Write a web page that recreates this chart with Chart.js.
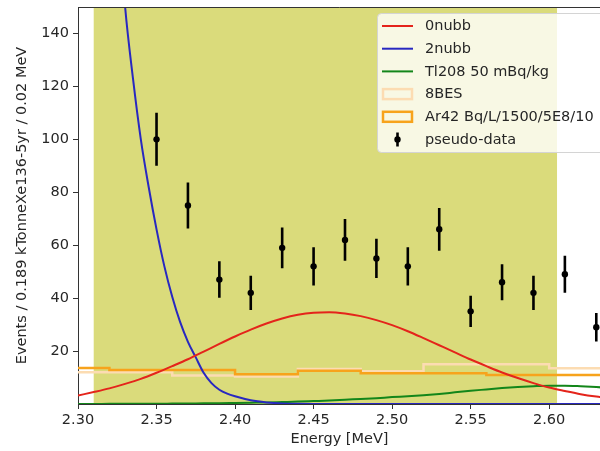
<!DOCTYPE html>
<html>
<head>
<meta charset="utf-8">
<script src="https://cdn.jsdelivr.net/npm/chart.js@4.4.1/dist/chart.umd.min.js"></script>
<style>
  html, body { margin: 0; padding: 0; background: #fff; }
  /* the original is cropped on the right: the plot runs into the edge */
  #wrap { position: relative; width: 600px; height: 451px; overflow: hidden; }
</style>
</head>
<body>
<div id="wrap"><canvas id="spectrum" width="605" height="451"></canvas></div>
<script>
// energy grid for the smooth model curves (MeV)
const energies = [2.30, 2.31, 2.32, 2.33, 2.34, 2.35, 2.36, 2.37, 2.38, 2.39,
                  2.40, 2.41, 2.42, 2.43, 2.44, 2.45, 2.46, 2.47, 2.48, 2.49,
                  2.50, 2.51, 2.52, 2.53, 2.54, 2.55, 2.56, 2.57, 2.58, 2.59,
                  2.60, 2.61, 2.62, 2.63, 2.64];
const zeroNuBB = [3.2, 4.5, 5.9, 7.6, 9.5, 11.8, 14.3, 16.9, 19.8, 22.7,
                  25.5, 28.1, 30.4, 32.3, 33.7, 34.5, 34.7, 34.2, 33.2, 31.7,
                  29.8, 27.5, 24.9, 22.2, 19.5, 16.8, 14.3, 11.9, 9.8, 7.9,
                  6.2, 4.9, 3.7, 2.8, 2.1];
const tl208 = [0, 0, 0.05, 0.05, 0.1, 0.1, 0.15, 0.2, 0.25, 0.3,
               0.4, 0.5, 0.6, 0.75, 0.9, 1.1, 1.3, 1.6, 1.9, 2.2,
               2.6, 2.9, 3.3, 3.8, 4.4, 5.0, 5.5, 6.0, 6.4, 6.7,
               6.9, 6.9, 6.7, 6.4, 6.0];

// 2nubb falls steeply, so it gets its own finer grid
const twoNuE = [2.32, 2.325, 2.33, 2.335, 2.34, 2.345, 2.35, 2.355, 2.36, 2.365,
                2.37, 2.375, 2.38, 2.385, 2.39, 2.395, 2.40, 2.41, 2.42, 2.43,
                2.44, 2.45, 2.64];
const twoNuBB = [240, 190, 150, 123, 100, 82, 66, 52, 40.5, 31,
                 23.5, 17.6, 11.8, 7.9, 5.4, 3.9, 2.9, 1.4, 0.6, 0.2,
                 0.05, 0, 0];

// step histograms (bin edges + bin contents)
const binEdges = [2.28, 2.32, 2.36, 2.40, 2.44, 2.48, 2.52, 2.56, 2.60, 2.64];
const bes8 = [12.0, 12.0, 10.8, 10.4, 13.2, 12.4, 15.0, 15.0, 13.5];
const ar42 = [13.6, 12.8, 12.8, 11.2, 12.6, 11.6, 11.6, 11.0, 11.0];

// pseudo-data with error bars
const dataE = [2.35, 2.37, 2.39, 2.41, 2.43, 2.45, 2.47, 2.49, 2.51, 2.53, 2.55, 2.57, 2.59, 2.61, 2.63];
const dataY = [100, 75, 47, 42, 59, 52, 62, 55, 52, 66, 35, 46, 42, 49, 29];
const dataErr = [10, 8.7, 6.9, 6.5, 7.7, 7.2, 7.9, 7.4, 7.2, 8.1, 5.9, 6.8, 6.5, 7.0, 5.4];

// shaded region of interest
const roiLo = 2.31;
const roiHi = 2.605;

const xTicks = [2.30, 2.35, 2.40, 2.45, 2.50, 2.55, 2.60];
const yTicks = [20, 40, 60, 80, 100, 120, 140];

const FONT = 'DejaVu Sans';
const FONT_SIZE = 14.5;
const INK = '#262626';

let pairs = (xs, ys) => xs.map((x, i) => ({x: x, y: ys[i]}));

// bin edges + contents -> points for a stepped line (value held back to previous edge)
let stepPoints = (edges, vals) => {
    let pts = [{x: edges[0], y: vals[0]}];
    vals.forEach((v, i) => pts.push({x: edges[i + 1], y: v}));
    return pts;
};

// vertical error bar segments, broken with nulls
let errPoints = [];
dataE.forEach((e, i) => {
    errPoints.push({x: e, y: dataY[i] - dataErr[i]});
    errPoints.push({x: e, y: dataY[i] + dataErr[i]});
    errPoints.push({x: e, y: null});
});

const datasets = [
    { label: 'pseudo-data', data: pairs(dataE, dataY), showLine: false,
      pointRadius: 3.2, pointBackgroundColor: '#000', pointBorderWidth: 0, borderColor: '#000' },
    { label: 'errors', data: errPoints, borderColor: '#000', borderWidth: 2.6,
      pointRadius: 0, spanGaps: false },
    { label: '0nubb', data: pairs(energies, zeroNuBB), borderColor: '#e4241b',
      borderWidth: 2, pointRadius: 0, cubicInterpolationMode: 'monotone' },
    { label: '2nubb', data: pairs(twoNuE, twoNuBB), borderColor: '#2828c0',
      borderWidth: 2, pointRadius: 0, cubicInterpolationMode: 'monotone' },
    { label: 'Tl208 50 mBq/kg', data: pairs(energies, tl208), borderColor: '#13861a',
      borderWidth: 2, pointRadius: 0, cubicInterpolationMode: 'monotone' },
    { label: 'Ar42 Bq/L/1500/5E8/10', data: stepPoints(binEdges, ar42), borderColor: '#f7a31c',
      borderWidth: 2.5, pointRadius: 0, stepped: 'after', kind: 'patch' },
    { label: '8BES', data: stepPoints(binEdges, bes8), borderColor: '#fcdcb2',
      borderWidth: 2.5, pointRadius: 0, stepped: 'after', kind: 'patch' }
];

const legendOrder = ['0nubb', '2nubb', 'Tl208 50 mBq/kg', '8BES', 'Ar42 Bq/L/1500/5E8/10', 'pseudo-data'];

// yellow band behind everything, frame + legend on top
const decor = {
    id: 'decor',
    beforeDraw(chart) {
        let {ctx, chartArea, scales} = chart;
        ctx.save();
        ctx.fillStyle = '#fff';
        ctx.fillRect(0, 0, chart.width, chart.height);
        let l = scales.x.getPixelForValue(roiLo);
        let r = scales.x.getPixelForValue(roiHi);
        ctx.fillStyle = '#dadb7b';
        ctx.fillRect(l, chartArea.top, r - l, chartArea.bottom - chartArea.top);
        ctx.restore();
    },
    afterDraw(chart) {
        let {ctx, chartArea} = chart;
        ctx.save();
        // top spine
        ctx.strokeStyle = '#333';
        ctx.lineWidth = 1;
        ctx.beginPath();
        ctx.moveTo(chartArea.left, chartArea.top + 0.5);
        ctx.lineTo(chartArea.right, chartArea.top + 0.5);
        ctx.stroke();

        // legend box
        ctx.fillStyle = 'rgba(255,255,255,0.8)';
        ctx.strokeStyle = '#d4d4d4';
        ctx.beginPath();
        ctx.roundRect(377.5, 13.5, 240, 139, 4);
        ctx.fill();
        ctx.stroke();

        ctx.font = FONT_SIZE + 'px "' + FONT + '"';
        ctx.textBaseline = 'middle';
        legendOrder.forEach((label, i) => {
            let ds = chart.data.datasets.find(d => d.label === label);
            let y = 26 + i * 22.7;
            if (label === 'pseudo-data') {
                ctx.strokeStyle = '#000';
                ctx.lineWidth = 2.6;
                ctx.beginPath();
                ctx.moveTo(397.5, y - 7);
                ctx.lineTo(397.5, y + 7);
                ctx.stroke();
                ctx.fillStyle = '#000';
                ctx.beginPath();
                ctx.arc(397.5, y, 3.2, 0, Math.PI * 2);
                ctx.fill();
            } else if (ds.kind === 'patch') {
                ctx.strokeStyle = ds.borderColor;
                ctx.lineWidth = 2.5;
                ctx.strokeRect(383, y - 5, 29, 10);
            } else {
                ctx.strokeStyle = ds.borderColor;
                ctx.lineWidth = 2;
                ctx.beginPath();
                ctx.moveTo(382, y);
                ctx.lineTo(413, y);
                ctx.stroke();
            }
            ctx.fillStyle = INK;
            ctx.fillText(label, 425, y + 0.5);
        });
        ctx.restore();
    }
};

const tickFont = {family: FONT, size: FONT_SIZE};

new Chart(document.getElementById('spectrum'), {
    type: 'line',
    data: {datasets: datasets},
    plugins: [decor],
    options: {
        responsive: false,
        animation: false,
        devicePixelRatio: 1,
        layout: {padding: {top: 7, right: 0, left: 0, bottom: 0}},
        plugins: {legend: {display: false}, tooltip: {enabled: false}},
        scales: {
            x: {
                type: 'linear', min: 2.30, max: 2.633,
                afterBuildTicks: s => { s.ticks = xTicks.map(v => ({value: v})); },
                afterFit: s => { s.height = 47; s.paddingLeft = 0; s.paddingRight = 0; },
                ticks: {callback: v => v.toFixed(2), font: tickFont, color: INK,
                        padding: 3, maxRotation: 0, autoSkip: false},
                grid: {drawOnChartArea: false, drawTicks: true, tickLength: 5, tickColor: '#333'},
                border: {color: '#333', width: 1},
                title: {display: true, text: 'Energy [MeV]', font: tickFont, color: INK,
                        padding: {top: 0, bottom: 3}}
            },
            y: {
                type: 'linear', min: 0, max: 150,
                afterBuildTicks: s => { s.ticks = yTicks.map(v => ({value: v})); },
                afterFit: s => { s.width = 78; s.paddingTop = 0; s.paddingBottom = 0; },
                ticks: {font: tickFont, color: INK, padding: 4},
                grid: {drawOnChartArea: false, drawTicks: true, tickLength: 5, tickColor: '#333'},
                border: {color: '#333', width: 1},
                title: {display: true, text: 'Events / 0.189 kTonneXe136-5yr / 0.02 MeV',
                        font: tickFont, color: INK, padding: {top: 14, bottom: 0}}
            }
        }
    }
});
</script>
</body>
</html>
